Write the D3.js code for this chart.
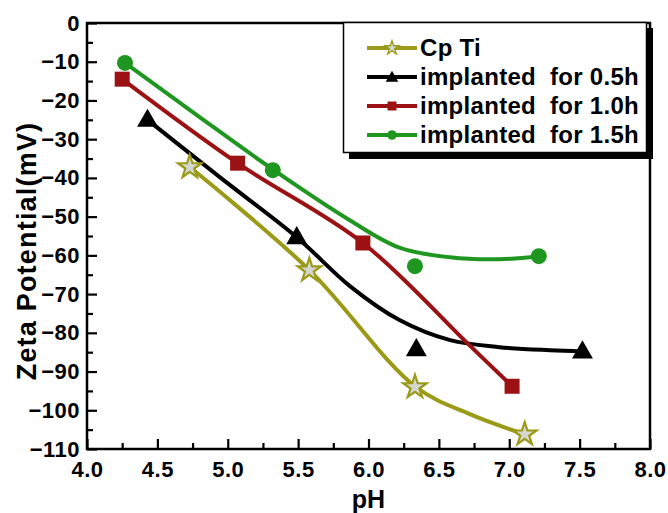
<!DOCTYPE html>
<html lang="en">
<head>
<meta charset="utf-8">
<title>Zeta potential vs pH</title>
<style>
  body { margin: 0; background: #fff; }
  text { font-family: "Liberation Sans", Arial, sans-serif; font-weight: bold; }
  .frame { fill: none; stroke: #000; stroke-width: 2.5px; }
</style>
</head>
<body>
<svg id="chart" width="668" height="513"></svg>
<script src="https://d3js.org/d3.v7.min.js"></script>
<script>
// measured points
var cpX   = [4.73, 5.58, 6.33, 7.11];
var cpY   = [-37.2, -63.8, -94.0, -106.2];
var h05X  = [4.43, 5.49, 6.34, 7.52];
var h05Y  = [-25.0, -55.3, -84.2, -84.8];
var h10X  = [4.25, 5.07, 5.96, 7.02];
var h10Y  = [-14.5, -36.2, -56.8, -93.8];
var h15X  = [4.27, 5.32, 6.33, 7.21];
var h15Y  = [-10.3, -38.0, -62.8, -60.2];

// fitted curves
var cpFitX  = [4.73, 5.58, 6.33, 6.72, 7.11];
var cpFitY  = [-37.2, -63.8, -93.8, -101.0, -106.2];
var h05FitX = [4.43, 4.95, 5.49, 5.87, 6.22, 6.58, 6.93, 7.29, 7.52];
var h05FitY = [-25.0, -40.0, -55.3, -68.0, -76.7, -81.9, -83.7, -84.5, -84.8];
var h10FitX = [4.25, 5.07, 5.96, 6.70, 7.02];
var h10FitY = [-14.5, -36.2, -56.8, -82.6, -93.8];
var h15FitX = [4.27, 4.80, 5.32, 5.87, 6.22, 6.58, 6.93, 7.21];
var h15FitY = [-10.3, -24.3, -37.8, -51.0, -58.0, -60.5, -61.0, -60.2];

var names  = ["Cp Ti", "implanted\u00a0 for 0.5h", "implanted\u00a0 for 1.0h", "implanted\u00a0 for 1.5h"];
var colors = ["#9a9a18", "#000000", "#9c1214", "#1f961f"];
var shapes = ["star", "triangle", "square", "circle"];

var xTicks = [4.0, 4.5, 5.0, 5.5, 6.0, 6.5, 7.0, 7.5, 8.0];
var yTicks = [0, -10, -20, -30, -40, -50, -60, -70, -80, -90, -100, -110];

function zip(xs, ys) { return xs.map(function(x, i) { return [x, ys[i]]; }); }

var series = [
  { pts: zip(cpX, cpY),   fit: zip(cpFitX, cpFitY) },
  { pts: zip(h05X, h05Y), fit: zip(h05FitX, h05FitY) },
  { pts: zip(h10X, h10Y), fit: zip(h10FitX, h10FitY) },
  { pts: zip(h15X, h15Y), fit: zip(h15FitX, h15FitY) }
];

var svg = d3.select("#chart"),
    pl = 87, pr = 650, pt = 23, pb = 449;

var x = d3.scaleLinear().domain([4, 8]).range([pl, pr]);
var y = d3.scaleLinear().domain([-110, 0]).range([pb, pt]);

// axes, ticks inward
var xMajor = d3.axisBottom(x).tickValues(xTicks).tickSize(-10).tickPadding(12)
    .tickFormat(d3.format(".1f"));
var xMinor = d3.axisBottom(x).tickValues(d3.range(4.25, 8, 0.5)).tickSize(-6).tickFormat("");
var yMajor = d3.axisLeft(y).tickValues(yTicks).tickSize(-10).tickPadding(7)
    .tickFormat(d3.format("d"));
var yMinor = d3.axisLeft(y).tickValues(d3.range(-105, 0, 10)).tickSize(-6).tickFormat("");

function styleAxis(g) {
  g.select(".domain").remove();
  g.selectAll(".tick line").attr("stroke", "#000").attr("stroke-width", 2.2);
  g.selectAll("text").attr("fill", "#000").style("font-size", "22px")
    .style("letter-spacing", "0.5px")
    .style("font-family", "'Liberation Sans', Arial, sans-serif").style("font-weight", "bold");
}

svg.append("g").attr("transform", "translate(0," + pb + ")").call(xMajor).call(styleAxis);
svg.append("g").attr("transform", "translate(0," + pb + ")").call(xMinor).call(styleAxis);
svg.append("g").attr("transform", "translate(" + pl + ",0)").call(yMajor).call(styleAxis);
svg.append("g").attr("transform", "translate(" + pl + ",0)").call(yMinor).call(styleAxis);

svg.append("rect").attr("class", "frame")
  .attr("x", pl).attr("y", pt).attr("width", pr - pl).attr("height", pb - pt);

// axis titles
svg.append("text").attr("x", (pl + pr) / 2).attr("y", 508)
  .attr("text-anchor", "middle").style("font-size", "25px").text("pH");
svg.append("text").attr("transform", "translate(36,251) rotate(-90)")
  .attr("text-anchor", "middle").style("font-size", "27px").style("letter-spacing", "1.2px")
  .text("Zeta Potential(mV)");

// markers
function drawMarker(g, shape, color, cx, cy, scale) {
  scale = scale || 1;
  if (shape === "star") {
    g.append("path").attr("d", d3.symbol().type(d3.symbolStar).size(170 * scale * scale)())
      .attr("transform", "translate(" + cx + "," + cy + ")")
      .attr("fill", "#d6d6d0").attr("stroke", color).attr("stroke-width", 2.2 * scale);
  } else if (shape === "triangle") {
    g.append("path").attr("d", d3.symbol().type(d3.symbolTriangle).size(190 * scale * scale)())
      .attr("transform", "translate(" + cx + "," + (cy + 1) + ")")
      .attr("fill", color);
  } else if (shape === "square") {
    var s = 15 * scale;
    g.append("rect").attr("x", cx - s / 2).attr("y", cy - s / 2)
      .attr("width", s).attr("height", s).attr("fill", color);
  } else {
    g.append("circle").attr("cx", cx).attr("cy", cy).attr("r", 8 * scale).attr("fill", color);
  }
}

var line = d3.line()
  .x(function(d) { return x(d[0]); })
  .y(function(d) { return y(d[1]); })
  .curve(d3.curveCatmullRom.alpha(0.5));

var plot = svg.append("g");
series.forEach(function(s, i) {
  plot.append("path").datum(s.fit).attr("d", line)
    .attr("fill", "none").attr("stroke", colors[i]).attr("stroke-width", 4);
});
series.forEach(function(s, i) {
  s.pts.forEach(function(p) { drawMarker(plot, shapes[i], colors[i], x(p[0]), y(p[1])); });
});

// legend
var lg = svg.append("g");
lg.append("rect").attr("x", 349).attr("y", 28).attr("width", 304).attr("height", 131).attr("fill", "#000");
lg.append("rect").attr("x", 343.5).attr("y", 22.5).attr("width", 303).attr("height", 130)
  .attr("fill", "#fff").attr("stroke", "#000").attr("stroke-width", 1.5);

names.forEach(function(n, i) {
  var base = 56 + i * 29;
  var cy = base - 8;
  lg.append("line").attr("x1", 367).attr("x2", 417).attr("y1", cy).attr("y2", cy)
    .attr("stroke", colors[i]).attr("stroke-width", 4);
  drawMarker(lg, shapes[i], colors[i], 392, cy, 0.6);
  lg.append("text").attr("x", 420).attr("y", base)
    .style("font-size", "24px").style("letter-spacing", "0.3px").text(n);
});
</script>
</body>
</html>
